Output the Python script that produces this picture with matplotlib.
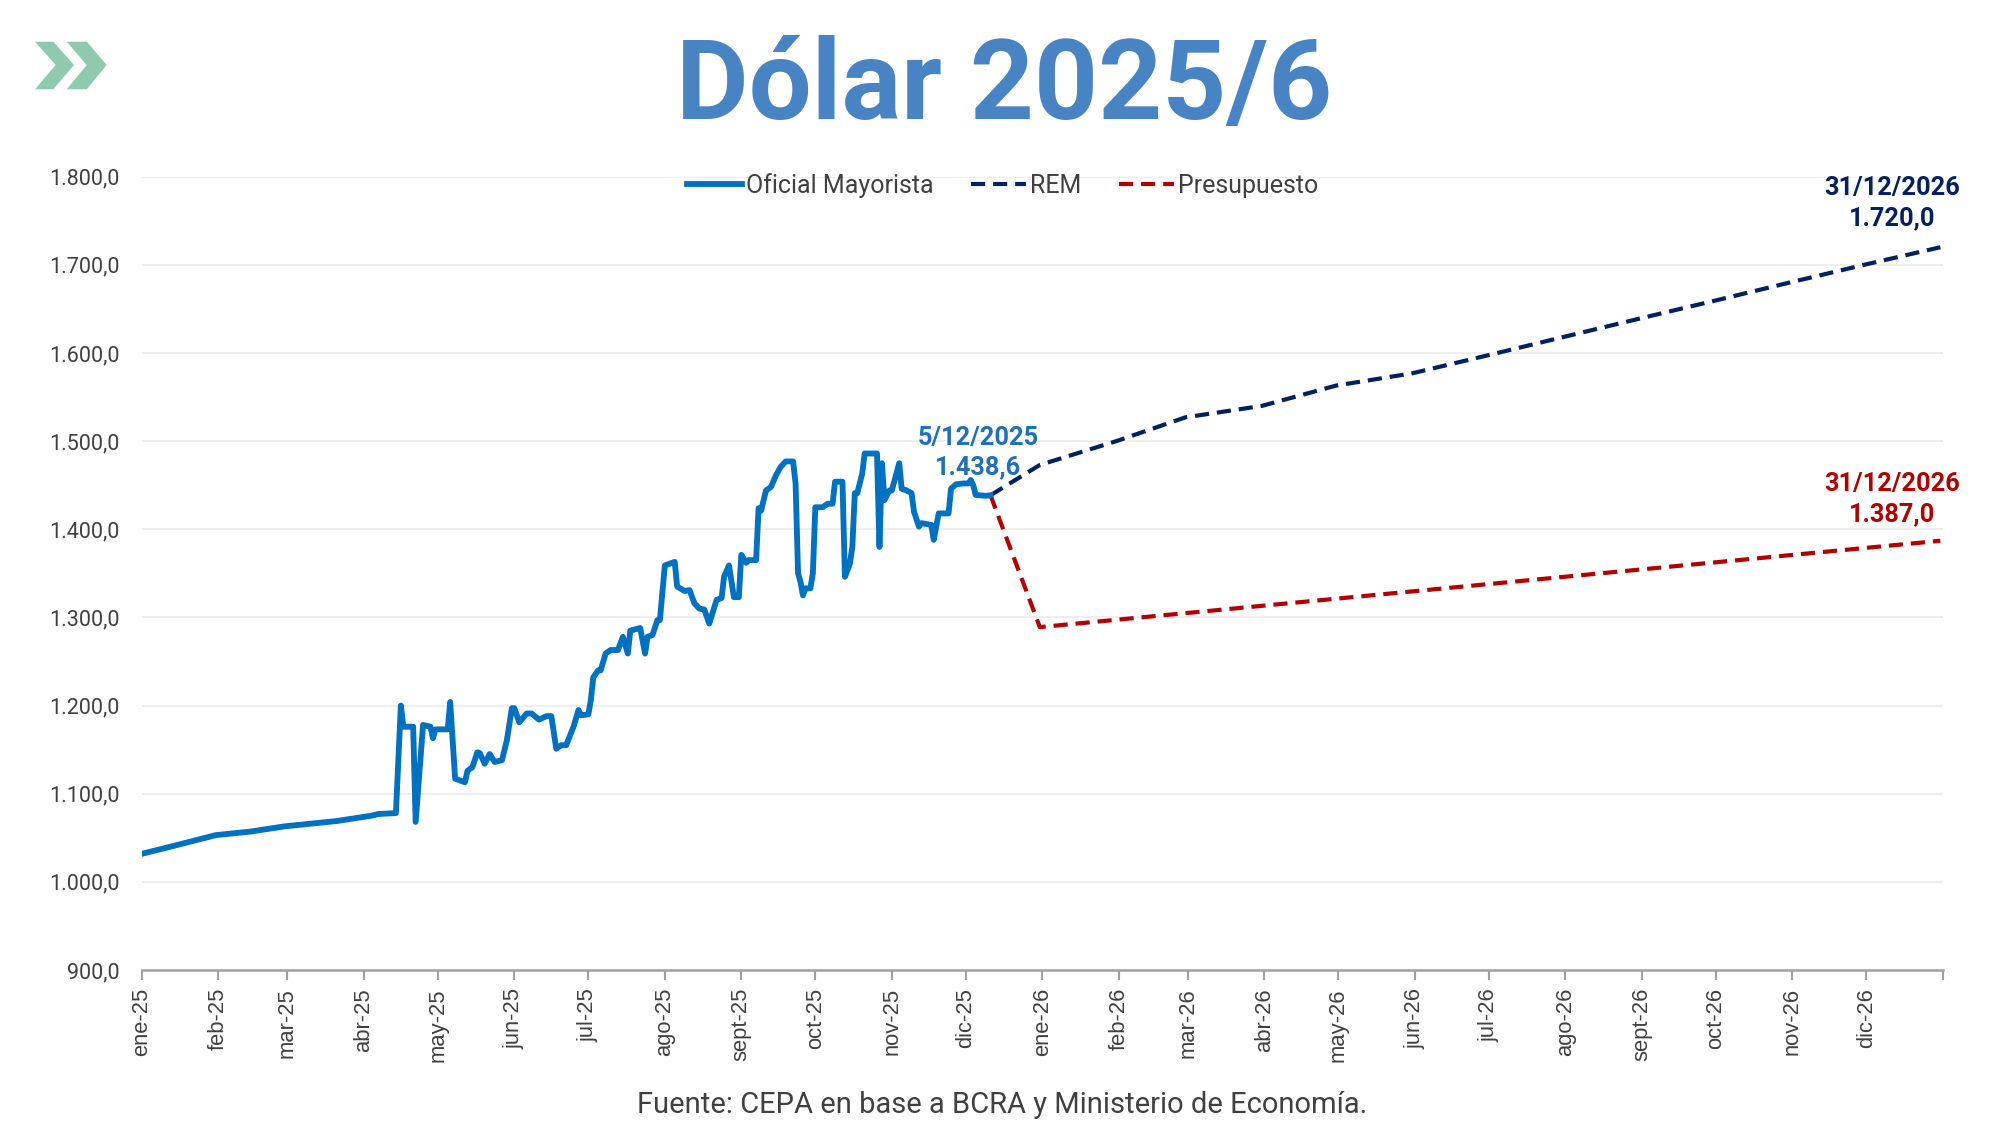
import numpy as np
import matplotlib
matplotlib.use('Agg')
import matplotlib.pyplot as plt
from matplotlib.patches import Polygon

plt.rcParams['font.family'] = ['Roboto', 'DejaVu Sans']

# Oficial mayorista: dias desde el 1/1/2025 y valor
oficial_dia = [1, 9, 16, 23, 30, 37, 44, 51, 58, 65, 72, 79, 86, 93, 96, 103,
               105, 106, 110, 111, 114, 117, 118, 119, 124, 125, 127, 131, 132, 134,
               136, 137, 139, 141, 143, 146, 148, 150, 151, 153, 156, 158, 161, 164,
               166, 168, 170, 172, 175, 177, 178, 181, 182, 183, 185, 186, 188, 190,
               193, 195, 197, 198, 202, 204, 205, 207, 209, 210, 212, 216, 217, 220,
               222, 224, 226, 228, 230, 233, 235, 236, 238, 240, 242, 243, 245, 246,
               249, 250, 251, 253, 255, 257, 259, 261, 264, 265, 266, 267, 268, 269,
               271, 272, 273, 276, 278, 280, 281, 284, 285, 287, 288, 289, 290, 292,
               293, 295, 298, 299, 300, 301, 303, 304, 307, 308, 310, 312, 313, 315,
               316, 320, 321, 322, 323, 327, 328, 330, 333, 335, 336, 337, 338, 342, 344]
oficial_val = [1032.5, 1038, 1043, 1048, 1053, 1055, 1057, 1060, 1063, 1065, 1067, 1069, 1072, 1075, 1077, 1078,
               1200, 1176, 1176, 1068, 1178, 1176, 1163, 1173, 1173, 1204, 1117, 1113, 1126, 1130,
               1147, 1146, 1134, 1145, 1136, 1138, 1161, 1197, 1197, 1181, 1191, 1191, 1184, 1188,
               1188, 1151, 1155, 1155, 1176, 1195, 1189, 1190, 1206, 1232, 1240, 1240, 1259, 1263,
               1263, 1278, 1259, 1285, 1288, 1259, 1278, 1280, 1297, 1297, 1359, 1363, 1335, 1330,
               1331, 1316, 1310, 1309, 1293, 1320, 1322, 1346, 1359, 1323, 1323, 1371, 1362, 1365,
               1365, 1424, 1421, 1444, 1448, 1461, 1471, 1477, 1477, 1452, 1350, 1340, 1325, 1333,
               1333, 1350, 1425, 1425, 1429, 1429, 1454, 1454, 1346, 1361, 1380, 1441, 1441, 1463,
               1486, 1486, 1486, 1380, 1475, 1433, 1444, 1444, 1475, 1446, 1444, 1441, 1420, 1403,
               1407, 1405, 1388, 1403, 1418, 1418, 1446, 1451, 1452, 1452, 1456, 1450, 1439, 1438, 1438.6]

# REM y Presupuesto (fin de mes)
rem_dia = [364, 395, 423, 454, 484, 515, 545, 576, 607, 637, 668, 698, 729]
rem_val = [1473, 1500, 1527, 1540, 1563, 1577, 1597, 1618, 1639, 1659, 1680, 1700, 1720]
pres_dia = [364, 729]
pres_val = [1289, 1387]

meses = ['ene', 'feb', 'mar', 'abr', 'may', 'jun', 'jul', 'ago', 'sept', 'oct', 'nov', 'dic']
etiquetas_x = [m + '-25' for m in meses] + [m + '-26' for m in meses]

azul = '#0070C0'
azul_osc = '#002060'
rojo = '#B00000'

fecha0 = np.datetime64('2025-01-01')
inicio_mes = np.arange('2025-01', '2027-02', dtype='datetime64[M]').astype('datetime64[D]')
ticks_x = (inicio_mes - fecha0).astype(int)

fig = plt.figure(figsize=(20, 11.25), dpi=100)
ax = fig.add_axes([0.0709, 0.1378, 0.9005, 0.7051])

ax.plot(oficial_dia, oficial_val, color=azul, lw=4.2, solid_joinstyle='round', label='Oficial Mayorista', zorder=4)
ax.plot([oficial_dia[-1]] + rem_dia, [oficial_val[-1]] + rem_val, color=azul_osc, lw=3.0,
        dashes=(3.4, 1.9), label='REM', zorder=3)
ax.plot([oficial_dia[-1]] + pres_dia, [oficial_val[-1]] + pres_val, color=rojo, lw=3.0,
        dashes=(3.4, 1.9), label='Presupuesto', zorder=3)

ax.set_xlim(0, 730)
ax.set_ylim(900, 1800)
ax.set_yticks(np.arange(900, 1801, 100))
ax.set_yticklabels(['{:,.1f}'.format(v).replace(',', 'X').replace('.', ',').replace('X', '.') for v in range(900, 1801, 100)],
                   fontsize=15.5, color='#404040')
ax.set_xticks(ticks_x)
ax.set_xticklabels(etiquetas_x + [''], rotation=90, fontsize=15.8, color='#404040',
                   family=['Liberation Sans', 'DejaVu Sans'])
ax.tick_params(axis='y', length=0, pad=16)
ax.tick_params(axis='x', length=7, width=1.5, color='#a0a0a0', pad=6)

for s in ['top', 'right', 'left']:
    ax.spines[s].set_visible(False)
ax.spines['bottom'].set_color('#a0a0a0')
ax.spines['bottom'].set_linewidth(1.8)
for v in range(1000, 1801, 100):
    ax.axhline(v, color='#ebebeb', lw=1.2, zorder=0)

leg = ax.legend(loc='center', bbox_to_anchor=(0.478, 0.989), ncol=3, frameon=False,
                fontsize=18, handlelength=2.2, handletextpad=0.15, columnspacing=1.5)
for t in leg.get_texts():
    t.set_color('#404040')

ax.text(339, 1487, '5/12/2025\n1.438,6', ha='center', va='center', fontsize=18.3,
        fontweight='bold', color='#1F70B8', linespacing=1.3)
ax.text(709.5, 1770, '31/12/2026\n1.720,0', ha='center', va='center', fontsize=18.3,
        fontweight='bold', color=azul_osc, linespacing=1.3, clip_on=False)
ax.text(709.5, 1434.5, '31/12/2026\n1.387,0', ha='center', va='center', fontsize=18.3,
        fontweight='bold', color=rojo, linespacing=1.3, clip_on=False)

fig.text(0.502, 1 - 119 / 1125, 'Dólar 2025/6', ha='center', va='baseline', fontsize=80.5,
         fontweight='bold', color='#4884C4')
fig.text(0.501, 1 - 1105 / 1125, 'Fuente: CEPA en base a BCRA y Ministerio de Economía.',
         ha='center', va='center', fontsize=21, color='#404040')

# logo de flechas
verde = '#8FCAB0'
flecha1 = [(35, 41.7), (53.3, 41.7), (74, 65), (53.3, 89.3), (35, 89.3), (55.7, 65)]
flecha2 = [(66.7, 41.7), (86.7, 41.7), (106.7, 65), (86.7, 89.3), (66.7, 89.3), (86.7, 65)]
for f in (flecha1, flecha2):
    pts = [(x / 2000, 1 - y / 1125) for x, y in f]
    fig.patches.append(Polygon(pts, closed=True, transform=fig.transFigure, color=verde, lw=0))

plt.savefig('out.png', dpi=100)
